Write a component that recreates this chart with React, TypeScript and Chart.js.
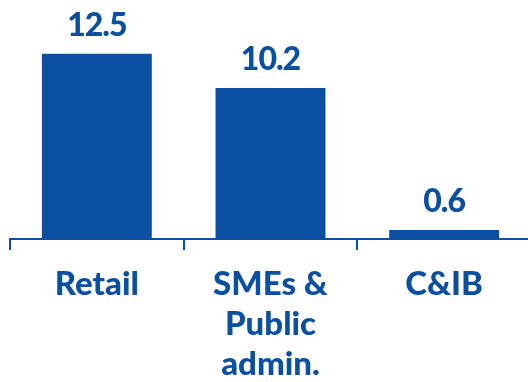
import React, { useEffect, useRef } from "react";
import { Chart, registerables } from "chart.js";

Chart.register(...registerables);

const categories: (string | string[])[] = ["Retail", ["SMEs &", "Public", "admin."], "C&IB"];
const values: number[] = [12.5, 10.2, 0.6];
const valueLabels: string[] = ["12.5", "10.2", "0.6"];

const BLUE = "#0B4FA3";
const FONT = "Lato";

const valueLabelPlugin = {
  id: "valueLabels",
  afterDatasetsDraw(chart: any) {
    const ctx = chart.ctx;
    const meta = chart.getDatasetMeta(0);
    ctx.save();
    ctx.fillStyle = BLUE;
    ctx.font = `900 32px ${FONT}`;
    ctx.textAlign = "center";
    ctx.textBaseline = "alphabetic";
    try { (ctx as any).letterSpacing = "-1px"; } catch (e) {}
    meta.data.forEach((bar: any, i: number) => {
      ctx.fillText(valueLabels[i], bar.x, bar.y - 18);
    });
    ctx.restore();
  },
};

export default function App() {
  const ref = useRef<HTMLCanvasElement | null>(null);
  useEffect(() => {
    if (!ref.current) return;
    const chart = new Chart(ref.current, {
      type: "bar",
      data: {
        labels: categories,
        datasets: [
          {
            data: values,
            backgroundColor: BLUE,
            borderWidth: 0,
            barPercentage: 0.633,
            categoryPercentage: 1,
          },
        ],
      },
      options: {
        responsive: false,
        maintainAspectRatio: false,
        animation: false,
        layout: { padding: { left: 10, right: 0, top: 2, bottom: 0 } },
        plugins: {
          legend: { display: false },
          tooltip: { enabled: false },
        },
        scales: {
          x: {
            offset: true,
            border: { display: true, color: BLUE, width: 2 },
            grid: {
              display: true,
              offset: true,
              drawOnChartArea: false,
              drawTicks: true,
              tickLength: 11,
              tickWidth: 2,
              tickColor: BLUE,
              color: BLUE,
              lineWidth: 2,
            },
            ticks: {
              color: BLUE,
              font: { family: FONT, size: 33, weight: "900", lineHeight: 1.2 },
              padding: 15,
              maxRotation: 0,
              autoSkip: false,
            },
            afterFit: (scale: any) => {
              scale.height = 143;
            },
          },
          y: {
            display: false,
            min: 0,
            max: 16,
          },
        },
      },
      plugins: [valueLabelPlugin],
    });
    return () => chart.destroy();
  }, []);
  return (
    <div style={{ position: "absolute", left: 0, top: 0, width: 528, height: 382, overflow: "hidden" }}>
      <canvas ref={ref} width={531} height={382} style={{ display: "block" }} />
    </div>
  );
}
